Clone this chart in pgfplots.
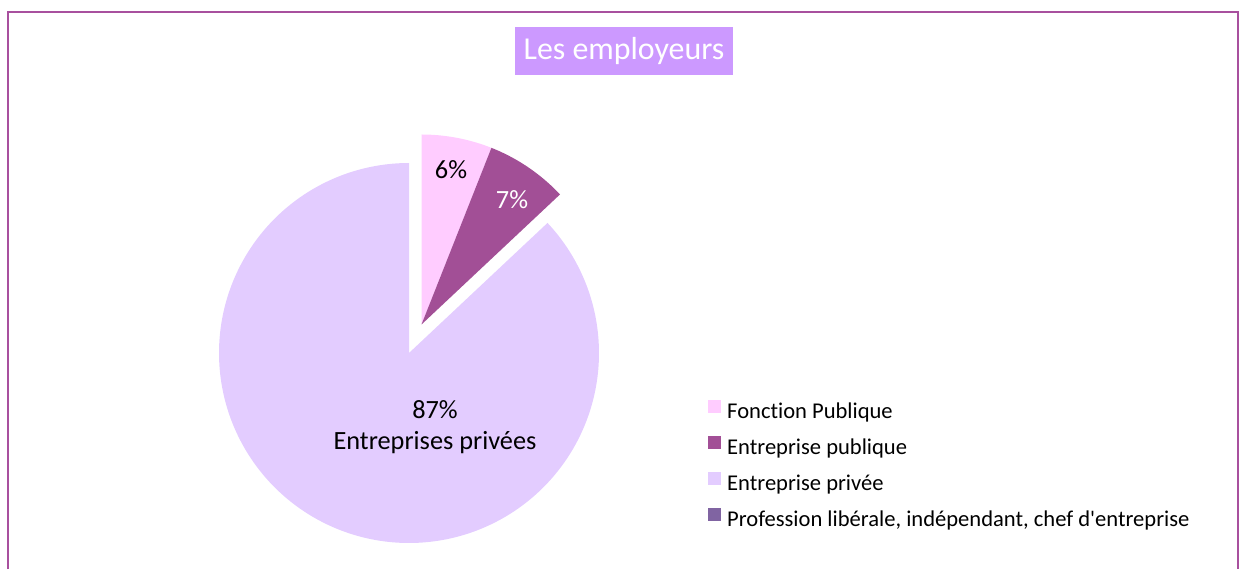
\documentclass[border=0pt]{standalone}
\usepackage{pgfplots}
\pgfplotsset{compat=1.18}
\usepackage{fontspec}
\setmainfont[Ligatures={NoCommon}]{Carlito}
\definecolor{cFP}{HTML}{FFCCFF}
\definecolor{cEP}{HTML}{A24F96}
\definecolor{cPR}{HTML}{E3CCFF}
\definecolor{cLB}{HTML}{8064A2}
\definecolor{cTitle}{HTML}{CC99FF}
\definecolor{cBorder}{HTML}{A8509E}
% data (percent)
\def\vFP{6}
\def\vEP{7}
\def\vPR{87}
\def\vLB{0}
\begin{document}
\begin{tikzpicture}
\pgfmathsetmacro\aA{3.6*\vFP}
\pgfmathsetmacro\aB{\aA+3.6*\vEP}
\pgfmathsetmacro\aC{\aB+3.6*\vPR}
\begin{axis}[
  width=1243bp, height=564bp, scale only axis,
  xmin=0, xmax=1243, ymin=0, ymax=564,
  hide axis, clip=false,
  legend image code/.code={\fill[#1] (0bp,0bp) rectangle (13bp,13bp);},
  legend cell align=left,
  legend style={at={(axis cs:708,164)}, anchor=north west, draw=none, fill=none,
    inner sep=0pt, font=\fontsize{22.65}{26}\selectfont, row sep=12bp,
    nodes={inner sep=1bp, text height=15bp, text depth=5bp},
    /tikz/every odd column/.append style={column sep=5bp}},
]
\path (axis cs:0,0) rectangle (axis cs:1243,564);
% border
\draw[line width=2bp, cBorder] (axis cs:8,-5) -- (axis cs:8,552) -- (axis cs:1238,552) -- (axis cs:1238,-5);
% slices
\addplot[fill=cFP, draw=none, domain=0:\aA, samples=40]
  ({421.5+190*sin(x)},{239.5+190*cos(x)}) -- (axis cs:421.5,239.5) -- cycle;
\addlegendentry{Fonction Publique}
\addplot[fill=cEP, draw=none, domain=\aA:\aB, samples=40]
  ({421.5+190*sin(x)},{239.5+190*cos(x)}) -- (axis cs:421.5,239.5) -- cycle;
\addlegendentry{Entreprise publique}
\addplot[fill=cPR, draw=none, domain=\aB:\aC, samples=300]
  ({409+190*sin(x)},{211+190*cos(x)}) -- (axis cs:409,211) -- cycle;
\addlegendentry{Entreprise privée}
\addlegendimage{fill=cLB, draw=none}
\addlegendentry{Profession libérale, indépendant, chef d\textquotesingle entreprise}
% labels
\node[font=\fontsize{26.4}{30}\selectfont, text=black] at (axis cs:451,394) {\vFP\%};
\node[font=\fontsize{26.4}{30}\selectfont, text=white] at (axis cs:512,364) {\vEP\%};
\node[font=\fontsize{26.4}{30}\selectfont, text=black] at (axis cs:435,154) {\vPR\%};
\node[font=\fontsize{26.4}{30}\selectfont, text=black] at (axis cs:435,121) {Entreprises privées};
% title
\node[fill=cTitle, text=white, minimum width=218bp, minimum height=48bp, inner sep=0pt,
  font=\fontsize{32}{36}\selectfont] at (axis cs:624,513) {Les employeurs};
\end{axis}
\end{tikzpicture}
\end{document}
